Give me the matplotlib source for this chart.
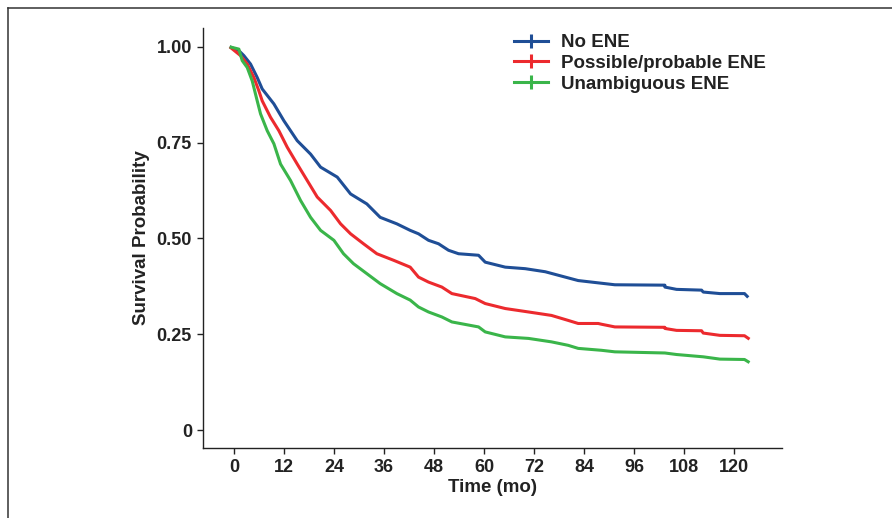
import numpy as np
import matplotlib
matplotlib.use("Agg")
import matplotlib.pyplot as plt
from matplotlib.lines import Line2D

plt.rcParams['font.family'] = ['Liberation Sans', 'DejaVu Sans']

# Kaplan-Meier curves (time in months, survival probability)
t_none = [-1, 1.2, 2.4, 4, 5.6, 6.8, 9.6, 12, 15.2, 18.4, 20.8, 24.8, 28, 31.9, 35.1,
          39.1, 42.3, 44.3, 46.7, 49.1, 51.5, 53.9, 58.7, 60.3, 65.1, 69.9, 74.7, 79.5,
          82.6, 87.4, 91.4, 103.4, 103.4, 106.2, 112.2, 112.6, 116.6, 122.5, 123.4]
s_none = [1.0, 0.99, 0.977, 0.955, 0.92, 0.89, 0.851, 0.807, 0.755, 0.72, 0.686, 0.66,
          0.616, 0.59, 0.555, 0.538, 0.521, 0.512, 0.495, 0.486, 0.469, 0.46, 0.456,
          0.438, 0.425, 0.421, 0.413, 0.399, 0.39, 0.384, 0.379, 0.378, 0.373, 0.367,
          0.365, 0.36, 0.356, 0.356, 0.346]

t_poss = [-1, 1.6, 3.2, 4.8, 6, 6.8, 8.8, 10.8, 12.8, 15.2, 17.6, 20, 23.2, 25.6, 28,
          31.1, 34.3, 38.3, 42.3, 44.3, 46.7, 49.9, 52.3, 57.9, 60.3, 65.1, 70.7, 76.2,
          80.2, 82.6, 87.4, 88.2, 91.4, 103.4, 103.4, 106.2, 112.2, 112.6, 116.6, 122.5,
          123.7]
s_poss = [1.0, 0.977, 0.955, 0.92, 0.885, 0.859, 0.816, 0.781, 0.738, 0.694, 0.651,
          0.608, 0.573, 0.538, 0.512, 0.486, 0.46, 0.443, 0.425, 0.399, 0.386, 0.373,
          0.356, 0.343, 0.33, 0.317, 0.308, 0.299, 0.286, 0.278, 0.278, 0.276, 0.269,
          0.268, 0.265, 0.26, 0.259, 0.253, 0.247, 0.246, 0.237]

t_unam = [-1, 1.2, 2, 3.2, 4.4, 5.6, 6.4, 8, 9.6, 11.2, 13.6, 16, 18.4, 20.8, 24, 26.3,
          28.7, 31.9, 35.1, 39.1, 42.3, 44.3, 46.7, 49.9, 52.3, 58.7, 60.3, 65.1, 70.7,
          76.2, 80.2, 82.6, 88.2, 91.4, 103.4, 106.2, 112.6, 116.6, 122.5, 123.7]
s_unam = [1.0, 0.994, 0.964, 0.946, 0.911, 0.859, 0.825, 0.781, 0.747, 0.694, 0.651,
          0.599, 0.555, 0.521, 0.495, 0.46, 0.434, 0.408, 0.382, 0.356, 0.339, 0.321,
          0.308, 0.295, 0.282, 0.269, 0.256, 0.243, 0.239, 0.23, 0.221, 0.213, 0.208,
          0.204, 0.201, 0.197, 0.191, 0.185, 0.184, 0.176]

labels = ["No ENE", "Possible/probable ENE", "Unambiguous ENE"]
colors = ["#1f4e96", "#ec2a2e", "#3ab54a"]
x_ticks = [0, 12, 24, 36, 48, 60, 72, 84, 96, 108, 120]
y_ticks = [0, 0.25, 0.50, 0.75, 1.00]
y_ticklabels = ["0", "0.25", "0.50", "0.75", "1.00"]

fig = plt.figure(figsize=(8.92, 5.18), dpi=100)
ax = fig.add_axes([0.2276, 0.1351, 0.6491, 0.8108])

for t, s, c in zip([t_none, t_poss, t_unam], [s_none, s_poss, s_unam], colors):
    ax.plot(t, s, color=c, lw=2.2, solid_joinstyle='round', solid_capstyle='butt')

ax.set_xlim(-7.4, 131.5)
ax.set_ylim(-0.047, 1.049)
ax.set_xticks(x_ticks)
ax.set_yticks(y_ticks)
ax.set_yticklabels(y_ticklabels)

for side in ("top", "right"):
    ax.spines[side].set_visible(False)
for side in ("left", "bottom"):
    ax.spines[side].set_linewidth(1.0)
    ax.spines[side].set_color("#222222")

ax.tick_params(axis='both', length=4, width=1.0, color="#222222",
               labelsize=13, labelcolor="#222222", pad=4)
for lbl in ax.get_xticklabels() + ax.get_yticklabels():
    lbl.set_fontweight('bold')

ax.set_xlabel("Time (mo)", fontsize=13.5, fontweight='bold', color="#222222", labelpad=2)
ax.set_ylabel("Survival Probability", fontsize=13.5, fontweight='bold', color="#222222",
              labelpad=5)

handles = [Line2D([0], [0], color=c, lw=2.2, marker='|', markersize=10,
                  markeredgewidth=2.2) for c in colors]
leg = fig.legend(handles, labels, loc='upper left',
                 bbox_to_anchor=(514 / 892, 1 - 34 / 518), bbox_transform=fig.transFigure,
                 frameon=False, borderpad=0, borderaxespad=0, handlelength=1.8,
                 handletextpad=0.7, labelspacing=0.2,
                 prop={'size': 13.5, 'weight': 'bold'})
for txt in leg.get_texts():
    txt.set_color("#222222")

# Thin frame along the top and left edges
fig.add_artist(Line2D([8 / 892, 1.0], [1 - 8 / 518, 1 - 8 / 518],
                      transform=fig.transFigure, color="#333333", lw=1.1))
fig.add_artist(Line2D([8 / 892, 8 / 892], [0.0, 1 - 8 / 518],
                      transform=fig.transFigure, color="#333333", lw=1.1))

fig.savefig("out.png", dpi=100)
